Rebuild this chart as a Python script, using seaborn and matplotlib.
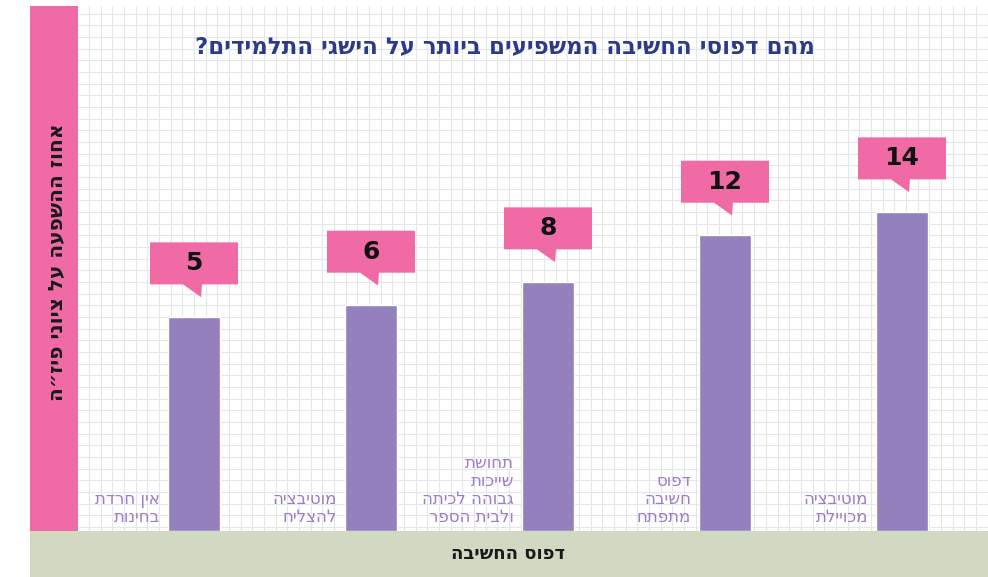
import matplotlib
matplotlib.use("Agg")
import matplotlib.pyplot as plt
import seaborn as sns
import numpy as np
from matplotlib.patches import Polygon
from matplotlib.ticker import MultipleLocator, NullFormatter

# data (labels written in logical order, reversed for drawing)
categories = [
    "אין חרדת\nבחינות",
    "מוטיבציה\nלהצליח",
    "תחושת\nשייכות\nגבוהה לכיתה\nולבית הספר",
    "דפוס\nחשיבה\nמתפתח",
    "מוטיבציה\nמכויילת",
]
values = [5, 6, 8, 12, 14]
title = "מהם דפוסי החשיבה המשפיעים ביותר על הישגי התלמידים?"
x_label = "דפוס החשיבה"
y_label = "אחוז ההשפעה על ציוני פיז״ה"

# axis floor / ceiling of the grid area (values)
y_floor, y_top = -13.34, 31.66


def rtl(s):
    # matplotlib has no bidi, so flip each line
    return "\n".join(line[::-1] for line in s.split("\n"))


PINK = "#f06aa6"
PURPLE = "#9480bd"
LABEL_PURPLE = "#9a7fc4"
GREEN = "#d2d9c2"
NAVY = "#2d3a88"

sns.set_theme(style="whitegrid")
plt.rcParams["font.family"] = ["DejaVu Sans"]

W, H = 988, 577
fig = plt.figure(figsize=(W / 100, H / 100), dpi=100)
fig.patch.set_facecolor("white")


def px(x, y, w, h):
    return [x / W, 1 - (y + h) / H, w / W, h / H]


# main grid area
ax = fig.add_axes(px(78, 6, 910, 525))
ax.set_facecolor("white")
x = np.arange(len(values))
step_px = 177.0
x_left = -116 / step_px
ax.set_xlim(x_left, x_left + 910 / step_px)
ax.set_ylim(y_floor, y_top)
cell = 11.67 / step_px
ax.xaxis.set_major_locator(MultipleLocator(cell))
ax.yaxis.set_major_locator(MultipleLocator(1))
ax.xaxis.set_major_formatter(NullFormatter())
ax.yaxis.set_major_formatter(NullFormatter())
ax.tick_params(length=0)
ax.grid(True, color="#e4e6e8", linewidth=0.8)
for s in ax.spines.values():
    s.set_visible(False)

vals = np.array(values, dtype=float)
ax.bar(x, vals - y_floor, bottom=y_floor, width=52 / step_px,
       color=PURPLE, zorder=3)

# speech bubbles with the values
bw, bh, gap = 88 / step_px / 2, 3.6, 2.8
for xi, v in zip(x, vals):
    b0 = v + gap
    rect = Polygon([(xi - bw, b0), (xi - 0.062, b0), (xi + 0.04, b0 - 1.1),
                    (xi + 0.045, b0), (xi + bw, b0), (xi + bw, b0 + bh),
                    (xi - bw, b0 + bh)], closed=True, facecolor=PINK,
                   edgecolor="none", zorder=4)
    ax.add_patch(rect)
    ax.text(xi, b0 + bh / 2, f"{int(v)}", ha="center", va="center",
            fontsize=18, fontweight="bold", color="#111111", zorder=5)

# category labels to the left of each bar
for xi, lab in zip(x, categories):
    ax.text(xi - 26 / step_px - 8 / step_px, y_floor + 0.45, rtl(lab),
            ha="right", va="bottom", multialignment="right",
            fontsize=12, color=LABEL_PURPLE, linespacing=1.0, zorder=5)

# pink band with y label
ax_p = fig.add_axes(px(30, 6, 48, 525))
ax_p.set_facecolor(PINK)
ax_p.set_xticks([]); ax_p.set_yticks([])
for s in ax_p.spines.values():
    s.set_visible(False)
ax_p.text(0.55, 0.512, rtl(y_label), rotation=90, ha="center", va="center",
          transform=ax_p.transAxes, fontsize=14.5, fontweight="bold",
          color="#1a1a1a")

# green band with x label
ax_g = fig.add_axes(px(30, 531, 958, 46))
ax_g.set_facecolor(GREEN)
ax_g.set_xticks([]); ax_g.set_yticks([])
for s in ax_g.spines.values():
    s.set_visible(False)
ax_g.text((508 - 30) / 958, 0.5, rtl(x_label), ha="center", va="center",
          transform=ax_g.transAxes, fontsize=13, fontweight="bold",
          color="#1a1a1a")

# title
fig.text(505 / W, 1 - 47 / H, rtl(title), ha="center", va="center",
         fontsize=16.5, fontweight="bold", color=NAVY)

fig.savefig("out.png", dpi=100, facecolor="white")
